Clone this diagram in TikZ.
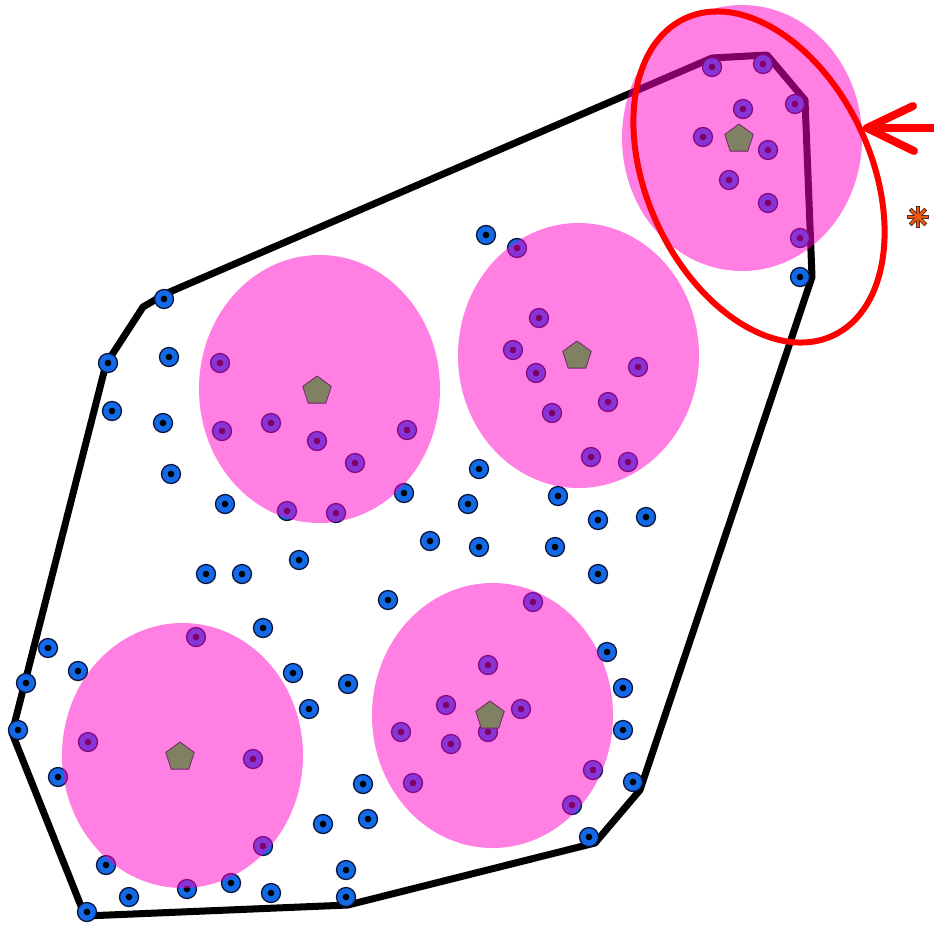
\documentclass[tikz,border=0pt]{standalone}
\usetikzlibrary{shapes.geometric}
\definecolor{ptblue}{RGB}{20,105,230}
\definecolor{ptline}{RGB}{10,20,60}
\definecolor{pinkc}{RGB}{255,0,200}
\definecolor{pentfill}{RGB}{128,128,98}
\definecolor{pentline}{RGB}{110,40,100}
\definecolor{astfill}{RGB}{235,90,20}
\definecolor{astline}{RGB}{90,40,20}
\begin{document}
\begin{tikzpicture}[x=1pt,y=-1pt,
  pt/.style={circle,fill=ptblue,draw=ptline,line width=1.3pt,minimum size=19pt,inner sep=0pt,
    path picture={\fill[black] (path picture bounding box.center) circle (3.3pt);}},
  blob/.style={fill=pinkc,fill opacity=0.5},
  pent/.style={regular polygon,regular polygon sides=5,fill=pentfill,draw=pentline,line width=0.8pt,minimum size=30pt,inner sep=0pt},
  hull/.style={line width=7pt,line join=round,black},
  redmark/.style={red,line width=6pt},
]
\useasboundingbox (0,0) rectangle (934,927);
% convex hull
\draw[hull] (165,294) -- (712,58) -- (767,55) -- (805,100) -- (812,277) -- (640,790) -- (595,843)
  -- (348,905) -- (85,916) -- (12,733) -- (106,364) -- (143,307) -- cycle;
% points
\foreach \x/\y [count=\i] in {712/67,763/64,795/104,743/109,703/137,768/150,729/180,768/203,800/238,800/277,
  486/235,517/248,539/318,513/350,536/373,638/367,608/402,552/413,591/457,628/462,
  407/430,479/469,404/493,468/504,558/496,598/520,646/517,430/541,479/547,555/547,
  598/574,388/600,533/602,164/299,108/363,169/357,220/363,112/411,163/423,222/431,
  271/423,317/441,355/463,171/474,225/504,287/511,336/513,299/560,206/574,242/574,
  263/628,196/637,48/648,78/671,26/683,293/673,348/684,309/709,18/730,88/742,
  253/759,58/777,363/784,368/819,323/824,263/846,106/865,346/870,129/897,187/889,
  231/883,271/893,346/897,87/912,607/652,623/688,623/730,488/665,446/705,521/709,
  488/732,401/732,451/744,413/783,593/770,572/805,633/782,589/837}
  \node[pt] (p\i) at (\x,\y) {};
% pink disks
\fill[blob] (319.5,389) ellipse [x radius=120.5pt, y radius=134pt];
\fill[blob] (578.5,355.5) ellipse [x radius=120.5pt, y radius=132.5pt];
\fill[blob] (742,138) ellipse [x radius=120pt, y radius=133pt];
\fill[blob] (182.5,755.5) ellipse [x radius=120.5pt, y radius=132.5pt];
\fill[blob] (492.5,715.5) ellipse [x radius=120.5pt, y radius=132.5pt];
% centres
\node[pent] (c1) at (317,391) {};
\node[pent] (c2) at (577,356) {};
\node[pent] (c3) at (739,139) {};
\node[pent] (c4) at (180,757) {};
\node[pent] (c5) at (490,716) {};
% red highlight
\draw[redmark] (759,177) ellipse [x radius=175pt, y radius=112pt, rotate=-65];
\coordinate (tipa) at (867,128);
\coordinate (tail) at (938,128);
\draw[redmark,line width=8pt,line cap=round,line join=round] (tail) -- (tipa);
\draw[redmark,line width=8pt,line cap=round,line join=round] (913,106) -- (tipa) -- (914,151);
% asterisk
\coordinate (ast) at (918,217);
\foreach \a in {0,45,...,315} \draw[astline,line width=4.2pt] (ast) -- +(\a:11pt);
\foreach \a in {0,45,...,315} \draw[astfill,line width=2.4pt] (ast) -- +(\a:10pt);
\fill[astfill] (ast) circle (3pt);
\end{tikzpicture}
\end{document}
